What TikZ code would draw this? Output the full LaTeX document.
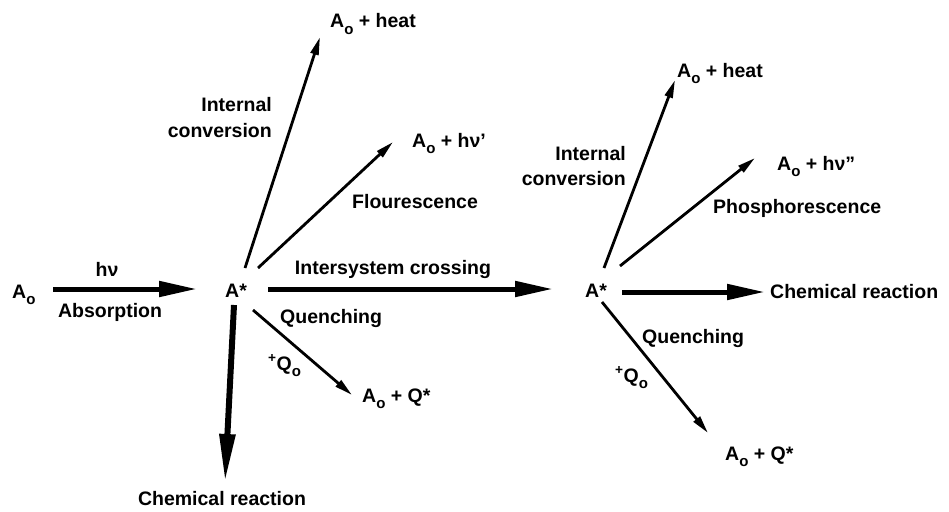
\documentclass[tikz,border=0pt]{standalone}
\usepackage{fontspec}
\setmainfont{Liberation Sans}
\usetikzlibrary{arrows.meta,calc}
\newcommand{\lowo}{\raisebox{-0.34em}{\fontsize{15}{15}\selectfont o}}
\begin{document}
\begin{tikzpicture}[x=1pt,y=-1pt,
  lbl/.style={inner sep=0pt, font=\bfseries\fontsize{19.5}{23}\selectfont},
  bigarr/.style={line width=5pt, -{Triangle[length=38pt,width=15pt]}},
  downarr/.style={line width=6pt, -{Triangle[length=48pt,width=15pt]}},
  thinarr/.style={line width=2.8pt, -{Triangle[length=18pt,width=8pt]}}]
\useasboundingbox (0,0) rectangle (949,511);
% texts
\node[lbl,anchor=base west] (A0) at (12,298) {A\lowo};
\node[lbl,anchor=base] (hnu) at (107,276) {hν};
\node[lbl,anchor=base] (abs) at (110,317) {Absorption};
\node[lbl,anchor=base west] (A1) at (225,297) {A*};
\node[lbl,anchor=base] (isc) at (393,274) {Intersystem crossing};
\node[lbl,anchor=base west] (A2) at (585,297) {A*};
\node[lbl,anchor=base west] (cr2) at (770,298) {Chemical reaction};
\node[lbl,anchor=base] (cr1) at (222,505) {Chemical reaction};
\node[lbl,anchor=base east] (ic1a) at (272,111) {Internal};
\node[lbl,anchor=base east] (ic1b) at (272,137) {conversion};
\node[lbl,anchor=base east] (ic2a) at (626,160) {Internal};
\node[lbl,anchor=base east] (ic2b) at (626,185) {conversion};
\node[lbl,anchor=base west] (heat1) at (330,28) {A\lowo\ + heat};
\node[lbl,anchor=base west] (hv1) at (412,147) {A\lowo\ + hν’};
\node[lbl,anchor=base west] (fl) at (352,208) {Flourescence};
\node[lbl,anchor=base west] (q1) at (280,323) {Quenching};
\node[lbl,anchor=base west] (qo1) at (268,370) {\textsuperscript{+}Q\lowo};
\node[lbl,anchor=base west] (aq1) at (362,402) {A\lowo\ + Q*};
\node[lbl,anchor=base west] (heat2) at (677,77) {A\lowo\ + heat};
\node[lbl,anchor=base west] (hv2) at (777,170) {A\lowo\ + hν”};
\node[lbl,anchor=base west] (ph) at (713,213) {Phosphorescence};
\node[lbl,anchor=base west] (q2) at (642,343) {Quenching};
\node[lbl,anchor=base west] (qo2) at (615,382) {\textsuperscript{+}Q\lowo};
\node[lbl,anchor=base west] (aq2) at (725,460) {A\lowo\ + Q*};
% arrows
\draw[bigarr] ($(A0.base west)+(41,-9)$) -- ($(A1.base west)+(-28,-8)$);
\draw[thinarr] ($(A1.base west)+(20,-29)$) -- ($(heat1.base west)+(-10,9)$);
\draw[thinarr] ($(A1.base west)+(33,-29)$) -- ($(hv1.base west)+(-19,-5)$);
\draw[bigarr] ($(A1.base west)+(43,-8)$) -- ($(A2.base west)+(-32,-8)$);
\draw[thinarr] ($(A1.base west)+(28,13)$) -- ($(aq1.base west)+(-10,-7)$);
\draw[downarr] ($(A1.base west)+(9,8)$) -- ($(cr1.base)+(3,-23)$);
\draw[thinarr] ($(A2.base west)+(19,-29)$) -- ($(heat2.base west)+(-2,3)$);
\draw[thinarr] ($(A2.base west)+(35,-31)$) -- ($(hv2.base west)+(-22,-12)$);
\draw[bigarr] ($(A2.base west)+(37,-5)$) -- ($(cr2.base west)+(-5,-6)$);
\draw[thinarr] ($(A2.base west)+(17,5)$) -- ($(aq2.base west)+(-17,-27)$);
\end{tikzpicture}
\end{document}
